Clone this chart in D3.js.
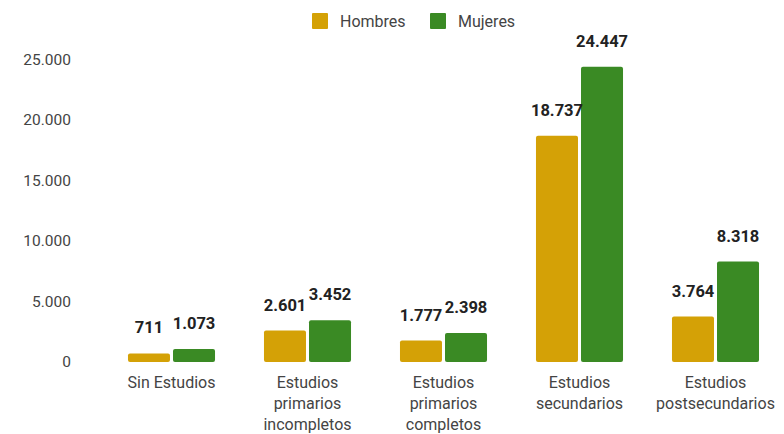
<!DOCTYPE html>
<html>
<head>
<meta charset="utf-8">
<script src="https://cdn.jsdelivr.net/npm/d3@7"></script>
<style>
  body { margin: 0; background: #fff; font-family: Roboto, "Noto Sans", sans-serif; }
</style>
</head>
<body>
<div id="chart"></div>
<script>
const categories = [
  ["Sin Estudios"],
  ["Estudios", "primarios", "incompletos"],
  ["Estudios", "primarios", "completos"],
  ["Estudios", "secundarios"],
  ["Estudios", "postsecundarios"]
]
const series = ["Hombres", "Mujeres"]
const hombres = [711, 2601, 1777, 18737, 3764]
const mujeres = [1073, 3452, 2398, 24447, 8318]
const yTicks = [0, 5000, 10000, 15000, 20000, 25000]

const colors = { Hombres: "#d4a106", Mujeres: "#3a8a24" }
const width = 784
const height = 434

const fmt = v => d3.format(",")(v).replace(/,/g, ".")

const rows = categories.map((c, i) => ({ key: i, label: c, Hombres: hombres[i], Mujeres: mujeres[i] }))

const svg = d3.select("#chart").append("svg")
  .attr("width", width)
  .attr("height", height)

const x0 = d3.scaleBand()
  .domain(rows.map(d => d.key))
  .range([103.5, 783.5])
  .paddingInner(0.36)
  .paddingOuter(0.18)

const x1 = d3.scaleBand()
  .domain(series)
  .range([0, x0.bandwidth()])
  .paddingInner(0.067)

const y = d3.scaleLinear()
  .domain([0, 25000])
  .range([362, 60])

// y axis labels (no lines)
svg.append("g")
  .selectAll("text")
  .data(yTicks)
  .join("text")
  .attr("x", 71)
  .attr("y", d => y(d) + 5)
  .attr("text-anchor", "end")
  .attr("font-size", 15.5)
  .attr("fill", "#444")
  .text(d => fmt(d))

// bars
const groups = svg.append("g")
  .selectAll("g")
  .data(rows)
  .join("g")
  .attr("transform", d => "translate(" + x0(d.key) + ",0)")

groups.selectAll("rect")
  .data(d => series.map(s => ({ s: s, v: d[s] })))
  .join("rect")
  .attr("x", d => x1(d.s))
  .attr("y", d => y(d.v))
  .attr("width", x1.bandwidth())
  .attr("height", d => y(0) - y(d.v))
  .attr("rx", 2)
  .attr("fill", d => colors[d.s])

groups.selectAll("text.val")
  .data(d => series.map(s => ({ s: s, v: d[s] })))
  .join("text")
  .attr("class", "val")
  .attr("x", d => x1(d.s) + x1.bandwidth() / 2)
  .attr("y", d => y(d.v) - 20)
  .attr("text-anchor", "middle")
  .attr("font-size", 16.5)
  .attr("font-weight", "bold")
  .attr("fill", "#222")
  .text(d => fmt(d.v))

// category labels
const cat = svg.append("g")
  .selectAll("text")
  .data(rows)
  .join("text")
  .attr("x", d => x0(d.key) + x0.bandwidth() / 2)
  .attr("y", 388)
  .attr("text-anchor", "middle")
  .attr("font-size", 16)
  .attr("fill", "#444")

cat.selectAll("tspan")
  .data(d => d.label)
  .join("tspan")
  .attr("x", function() { return d3.select(this.parentNode).attr("x") })
  .attr("dy", (d, i) => i === 0 ? 0 : 21)
  .text(d => d)

// legend
const legendX = [312, 430]
const legend = svg.append("g")
  .selectAll("g")
  .data(series)
  .join("g")
  .attr("transform", (d, i) => "translate(" + legendX[i] + ",13)")

legend.append("rect")
  .attr("width", 16)
  .attr("height", 16)
  .attr("rx", 1)
  .attr("fill", d => colors[d])

legend.append("text")
  .attr("x", 28)
  .attr("y", 14)
  .attr("font-size", 16)
  .attr("fill", "#444")
  .text(d => d)
</script>
</body>
</html>
